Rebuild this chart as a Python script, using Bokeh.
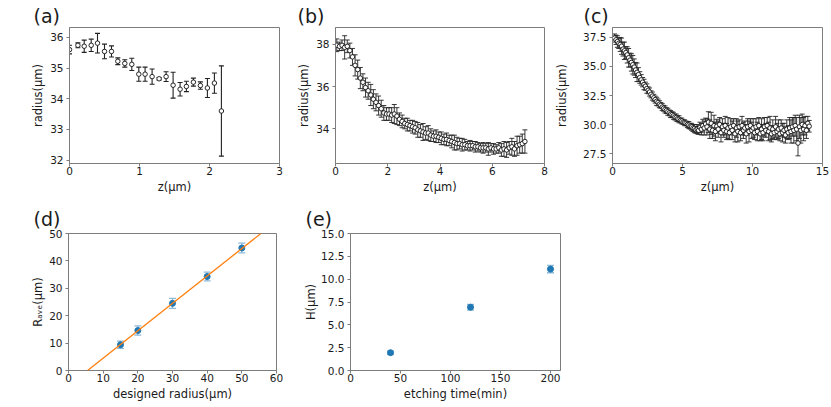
from bokeh.plotting import figure
from bokeh.models import Range1d, FixedTicker, PrintfTickFormatter, ColumnDataSource, Slope
from bokeh.layouts import column, row
from bokeh.embed import file_html
from bokeh.resources import INLINE

# ---------------- data ----------------
# (a)
a_z = [0.0, 0.12, 0.21, 0.31, 0.40, 0.50, 0.60, 0.69, 0.79, 0.89, 0.99, 1.08,
       1.18, 1.28, 1.38, 1.48, 1.58, 1.67, 1.77, 1.87, 1.97, 2.07, 2.17]
a_r = [35.60, 35.74, 35.71, 35.74, 35.81, 35.54, 35.54, 35.22, 35.15, 35.12, 34.80, 34.80,
       34.72, 34.65, 34.72, 34.44, 34.31, 34.40, 34.54, 34.43, 34.35, 34.51, 33.60]
a_e = [0.14, 0.08, 0.20, 0.20, 0.32, 0.24, 0.18, 0.11, 0.12, 0.20, 0.23, 0.23,
       0.25, 0.04, 0.16, 0.42, 0.22, 0.17, 0.13, 0.12, 0.31, 0.33, 1.47]

# (b)
b_z = [0.05, 0.15, 0.25, 0.35, 0.45, 0.55, 0.65, 0.75, 0.85, 0.95, 1.05, 1.15, 1.25,
       1.35, 1.45, 1.55, 1.65, 1.75, 1.85, 1.95, 2.05, 2.15, 2.25, 2.35, 2.45, 2.55,
       2.65, 2.75, 2.85, 2.95, 3.05, 3.15, 3.25, 3.35, 3.45, 3.55, 3.65, 3.75, 3.85,
       3.95, 4.05, 4.15, 4.25, 4.35, 4.45, 4.55, 4.65, 4.75, 4.85, 4.95, 5.05, 5.15,
       5.25, 5.35, 5.45, 5.55, 5.65, 5.75, 5.85, 5.95, 6.05, 6.15, 6.25, 6.35, 6.45,
       6.55, 6.65, 6.75, 6.85, 6.95, 7.05, 7.15, 7.25]
b_r = [37.95, 37.90, 37.95, 37.85, 37.90, 37.70, 37.40, 37.00, 36.80, 36.40, 36.20, 35.95, 35.80,
       35.60, 35.40, 35.25, 35.10, 34.95, 34.75, 34.70, 34.70, 34.65, 34.70, 34.60, 34.45, 34.35,
       34.25, 34.20, 34.15, 34.10, 34.05, 33.95, 33.90, 33.85, 33.80, 33.80, 33.70, 33.65, 33.65,
       33.60, 33.55, 33.50, 33.50, 33.45, 33.40, 33.35, 33.30, 33.30, 33.25, 33.25, 33.20, 33.20,
       33.20, 33.15, 33.15, 33.10, 33.10, 33.10, 33.05, 33.10, 33.05, 33.05, 33.10, 33.00, 33.05,
       33.00, 33.10, 33.15, 33.05, 33.20, 33.25, 33.30, 33.40]
b_e = [0.30, 0.20, 0.25, 0.55, 0.30, 0.35, 0.40, 0.50, 0.45, 0.50, 0.40, 0.45, 0.40,
       0.50, 0.45, 0.40, 0.45, 0.40, 0.35, 0.30, 0.30, 0.35, 0.45, 0.40, 0.30, 0.30,
       0.25, 0.30, 0.25, 0.30, 0.30, 0.35, 0.30, 0.40, 0.30, 0.35, 0.30, 0.25, 0.30,
       0.25, 0.30, 0.25, 0.30, 0.25, 0.30, 0.35, 0.30, 0.25, 0.30, 0.25, 0.20, 0.25,
       0.20, 0.25, 0.20, 0.20, 0.25, 0.20, 0.30, 0.20, 0.25, 0.20, 0.25, 0.30, 0.35,
       0.35, 0.30, 0.40, 0.35, 0.45, 0.40, 0.45, 0.55]

# (c)
c_z = [0.15, 0.25, 0.35, 0.45, 0.55, 0.65, 0.75, 0.85, 0.95, 1.05, 1.15, 1.25, 1.35, 1.45,
       1.55, 1.65, 1.75, 1.85, 1.95, 2.05, 2.15, 2.25, 2.35, 2.45, 2.55, 2.65, 2.75, 2.85,
       2.95, 3.05, 3.15, 3.25, 3.35, 3.45, 3.55, 3.65, 3.75, 3.85, 3.95, 4.05, 4.15, 4.25,
       4.35, 4.45, 4.55, 4.65, 4.75, 4.85, 4.95, 5.05, 5.15, 5.25, 5.35, 5.45, 5.55, 5.65,
       5.75, 5.85, 5.95, 6.05, 6.15, 6.25, 6.35, 6.45, 6.55, 6.65, 6.75, 6.85, 6.95, 7.05,
       7.15, 7.25, 7.35, 7.45, 7.55, 7.65, 7.75, 7.85, 7.95, 8.05, 8.15, 8.25, 8.35, 8.45,
       8.55, 8.65, 8.75, 8.85, 8.95, 9.05, 9.15, 9.25, 9.35, 9.45, 9.55, 9.65, 9.75, 9.85,
       9.95, 10.05, 10.15, 10.25, 10.35, 10.45, 10.55, 10.65, 10.75, 10.85, 10.95, 11.05,
       11.15, 11.25, 11.35, 11.45, 11.55, 11.65, 11.75, 11.85, 11.95, 12.05, 12.15, 12.25,
       12.35, 12.45, 12.55, 12.65, 12.75, 12.85, 12.95, 13.05, 13.15, 13.25, 13.35, 13.45,
       13.55, 13.65, 13.75, 13.85, 13.95, 14.05]
c_r = [37.45, 37.30, 37.15, 37.00, 36.90, 36.75, 36.50, 36.35, 36.20, 36.00, 35.75, 35.55, 35.35, 35.15,
       34.95, 34.70, 34.50, 34.30, 34.05, 33.85, 33.65, 33.45, 33.30, 33.10, 32.95, 32.80, 32.60, 32.45,
       32.30, 32.15, 32.00, 31.90, 31.75, 31.65, 31.50, 31.40, 31.30, 31.20, 31.10, 31.00, 30.90, 30.85,
       30.75, 30.65, 30.60, 30.50, 30.45, 30.35, 30.30, 30.20, 30.15, 30.10, 30.00, 29.95, 29.85, 29.80,
       29.70, 29.65, 29.55, 29.60, 29.50, 29.75, 29.60, 29.90, 29.70, 30.05, 29.80, 30.20, 29.60, 30.10,
       29.50, 29.90, 29.40, 29.85, 29.60, 30.00, 29.30, 29.80, 29.50, 29.90, 29.40, 29.70, 29.30, 29.80,
       29.50, 29.90, 29.20, 29.70, 29.40, 29.80, 29.30, 29.90, 29.50, 29.70, 29.20, 29.80, 29.40, 29.90,
       29.50, 29.70, 29.30, 29.80, 29.40, 29.90, 29.20, 29.60, 29.30, 29.80, 29.50, 29.90,
       29.40, 29.70, 29.20, 29.60, 29.30, 29.80, 29.40, 29.60, 29.20, 29.70, 29.30, 29.50,
       29.10, 29.60, 29.30, 29.70, 29.40, 29.80, 29.50, 29.90, 29.60, 28.40, 29.80, 29.50,
       30.00, 29.60, 29.90, 29.50, 30.10, 29.85]
c_e = [0.35, 0.40, 0.50, 0.45, 0.60, 0.70, 0.60, 0.75, 0.50, 0.70, 0.80, 0.60, 0.75, 0.80,
       0.70, 0.65, 0.80, 0.60, 0.50, 0.45, 0.40, 0.45, 0.35, 0.40, 0.30, 0.35, 0.30, 0.35,
       0.30, 0.30, 0.35, 0.30, 0.30, 0.25, 0.30, 0.25, 0.30, 0.25, 0.30, 0.25, 0.30, 0.25,
       0.30, 0.25, 0.30, 0.25, 0.30, 0.20, 0.25, 0.20, 0.25, 0.20, 0.25, 0.30, 0.25, 0.30,
       0.30, 0.35, 0.30, 0.40, 0.35, 0.45, 0.50, 0.55, 0.60, 0.50, 0.70, 0.90, 0.80, 0.95,
       0.70, 0.90, 0.80, 0.60, 0.70, 0.60, 0.80, 0.70, 0.60, 0.80, 0.70, 0.90, 0.60, 0.70,
       0.80, 0.60, 0.70, 0.80, 0.90, 0.60, 0.70, 0.80, 0.70, 0.60, 0.80, 0.70, 0.90, 0.60,
       0.70, 0.80, 0.60, 0.70, 0.80, 0.70, 0.60, 0.90, 0.70, 0.80, 0.60, 0.70,
       0.80, 1.00, 0.70, 0.80, 0.60, 0.90, 0.70, 0.80, 0.60, 0.70, 0.80, 0.60,
       0.70, 0.80, 0.60, 0.90, 1.00, 0.80, 1.10, 0.90, 1.00, 1.10, 1.00, 1.10,
       0.90, 1.00, 0.80, 0.70, 0.60, 0.50]

# (d)
d_designed = [15, 20, 30, 40, 50]
d_rave = [9.4, 14.6, 24.5, 34.3, 44.7]
d_err = [1.3, 1.7, 1.8, 1.6, 1.8]
d_fit_slope = 1.0
d_fit_intercept = -5.5

# (e)
e_time = [40, 120, 200]
e_h = [1.95, 6.93, 11.1]
e_err = [0.18, 0.31, 0.4]

# ---------------- styling ----------------
FONT = "DejaVu Sans"
TEXT = "#1a1a1a"
SPINE = "#7d7d7d"
TICK_FS = "10.5px"
LABEL_FS = "11.5px"
BLUE = "#1f77b4"
BLUE_ERR = "#8ebad9"
ORANGE = "#ff7f0e"


def make_fig(fw, fh, bl, br, bt, bb, xr, yr, xt, yt, yfmt=None, xlabel="", ylabel="",
             title="", title_offset=0, title_standoff=8, ylab_standoff=3):
    p = figure(frame_width=fw, frame_height=fh,
               min_border_left=bl, min_border_right=br,
               min_border_top=bt, min_border_bottom=bb,
               x_range=Range1d(*xr), y_range=Range1d(*yr),
               output_backend="svg", toolbar_location=None, tools="")
    p.xgrid.visible = False
    p.ygrid.visible = False
    p.outline_line_color = SPINE
    p.outline_line_width = 1
    p.background_fill_color = "white"
    p.border_fill_color = "white"
    p.title.text = title
    p.title.align = "left"
    p.title.offset = title_offset
    p.title.standoff = title_standoff
    p.title.text_font = FONT
    p.title.text_font_size = "19px"
    p.title.text_line_height = 1.0
    p.title.text_font_style = "normal"
    p.title.text_color = TEXT
    p.xaxis.ticker = FixedTicker(ticks=xt)
    p.yaxis.ticker = FixedTicker(ticks=yt)
    if yfmt:
        p.yaxis.formatter = PrintfTickFormatter(format=yfmt)
    for ax in (p.xaxis[0], p.yaxis[0]):
        ax.axis_line_color = SPINE
        ax.major_tick_line_color = SPINE
        ax.minor_tick_line_color = None
        ax.major_tick_in = 0
        ax.major_tick_out = 3
        ax.major_label_text_font = FONT
        ax.major_label_text_font_size = TICK_FS
        ax.major_label_text_color = TEXT
        ax.axis_label_text_font = FONT
        ax.axis_label_text_font_size = LABEL_FS
        ax.axis_label_text_font_style = "normal"
        ax.axis_label_text_color = TEXT
    p.xaxis.major_label_standoff = 0
    p.xaxis.axis_label_standoff = 2
    p.yaxis.major_label_standoff = 3
    p.yaxis.axis_label_standoff = ylab_standoff
    p.xaxis.axis_label = xlabel
    p.yaxis.axis_label = ylabel
    return p


def open_errbar(p, z, r, e, lw=1.0, cap=5):
    lo = [ri - ei for ri, ei in zip(r, e)]
    hi = [ri + ei for ri, ei in zip(r, e)]
    src = ColumnDataSource(dict(z=z, r=r, lo=lo, hi=hi))
    p.segment(x0="z", y0="lo", x1="z", y1="hi", source=src, line_color="#222222", line_width=lw)
    p.scatter(x="z", y="lo", source=src, marker="dash", size=cap, line_color="#222222", line_width=lw)
    p.scatter(x="z", y="hi", source=src, marker="dash", size=cap, line_color="#222222", line_width=lw)
    p.scatter(x="z", y="r", source=src, marker="circle", size=4.5,
              fill_color="white", line_color="#111111", line_width=0.9)


def blue_errbar(p, x, y, e, cap=7):
    lo = [yi - ei for yi, ei in zip(y, e)]
    hi = [yi + ei for yi, ei in zip(y, e)]
    src = ColumnDataSource(dict(x=x, y=y, lo=lo, hi=hi))
    p.segment(x0="x", y0="lo", x1="x", y1="hi", source=src, line_color=BLUE_ERR, line_width=1.3)
    p.scatter(x="x", y="lo", source=src, marker="dash", size=cap, line_color=BLUE_ERR, line_width=1.3)
    p.scatter(x="x", y="hi", source=src, marker="dash", size=cap, line_color=BLUE_ERR, line_width=1.3)
    p.scatter(x="x", y="y", source=src, marker="circle", size=6, fill_color=BLUE, line_color=BLUE)


# ---------------- row 1 (height 200) ----------------
fa = make_fig(210, 136, 69, 4, 27, 37, (0, 3), (31.89, 36.32),
              [0, 1, 2, 3], [32, 33, 34, 35, 36], xlabel="z(µm)", ylabel="radius(µm)",
              title="(a)", title_offset=-36, title_standoff=2, ylab_standoff=2)
open_errbar(fa, a_z, a_r, a_e, lw=1.1, cap=5)

fb = make_fig(209, 136, 52, 8, 27, 37, (0, 8), (32.36, 38.79),
              [0, 2, 4, 6, 8], [34, 36, 38], xlabel="z(µm)", ylabel="radius(µm)",
              title="(b)", title_offset=-38, title_standoff=2, ylab_standoff=2)
open_errbar(fb, b_z, b_r, b_e, lw=0.9, cap=5)

fc = make_fig(210, 136, 60, 9, 27, 37, (0, 15), (26.64, 38.36),
              [0, 5, 10, 15], [27.5, 30.0, 32.5, 35.0, 37.5], yfmt="%.1f",
              xlabel="z(µm)", ylabel="radius(µm)",
              title="(c)", title_offset=-29, title_standoff=2, ylab_standoff=11)
open_errbar(fc, c_z, c_r, c_e, lw=0.9, cap=5)

# ---------------- row 2 (height 207) ----------------
fd = make_fig(208, 137, 68, 7, 33, 37, (0, 60), (0, 50),
              [0, 10, 20, 30, 40, 50, 60], [0, 10, 20, 30, 40, 50],
              xlabel="designed radius(µm)", ylabel="Rₐᵥₑ(µm)",
              title="(d)", title_offset=-35, title_standoff=8, ylab_standoff=1)
fd.add_layout(Slope(gradient=d_fit_slope, y_intercept=d_fit_intercept,
                    line_color=ORANGE, line_width=1.3))
blue_errbar(fd, d_designed, d_rave, d_err)

fe = make_fig(210, 137, 67, 10, 33, 37, (0, 210), (0, 15),
              [0, 50, 100, 150, 200], [0, 2.5, 5, 7.5, 10, 12.5, 15], yfmt="%.1f",
              xlabel="etching time(min)", ylabel="H(µm)",
              title="(e)", title_offset=-45, title_standoff=8, ylab_standoff=0)
blue_errbar(fe, e_time, e_h, e_err)

layout = column(row(fa, fb, fc), row(fd, fe))
open("out.html", "w").write(file_html(layout, INLINE))
